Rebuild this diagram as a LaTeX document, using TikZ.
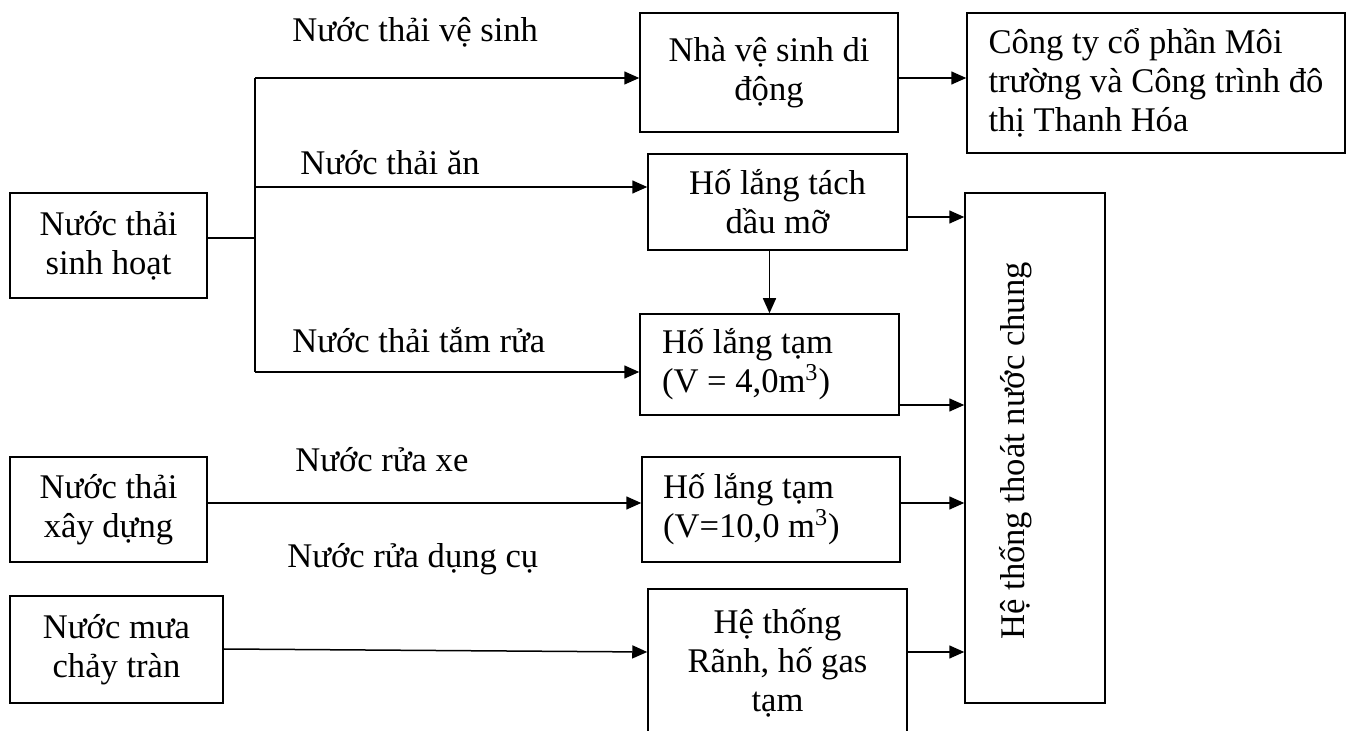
\documentclass[tikz,border=0pt]{standalone}
\usepackage{fontspec}
\setmainfont{Liberation Serif}
\usetikzlibrary{arrows.meta}
\begin{document}
\begin{tikzpicture}[x=0.5pt,y=-0.5pt,
  every node/.style={font=\fontsize{17.3}{19.5}\selectfont},
  box/.style={draw, line width=0.75pt, inner sep=0pt, align=center},
  lbox/.style={draw, line width=0.75pt, inner ysep=0pt, align=flush left},
  lbl/.style={anchor=base west, inner sep=0pt},
  arr/.style={line width=0.75pt, -{Triangle[length=7.5pt,width=6.5pt]}},
  ln/.style={line width=0.75pt}]
\useasboundingbox[fill=white] (0,0) rectangle (1351,731);
% boxes
\node[box, minimum width=98.5pt, minimum height=52.5pt] (sh) at (108.5,245.5) {Nước thải\\sinh hoạt};
\node[box, minimum width=98.5pt, minimum height=52.5pt] (xd) at (108.5,509.5) {Nước thải\\xây dựng};
\node[box, minimum width=106.5pt, minimum height=53.5pt] (mua) at (116.5,649.5) {Nước mưa\\chảy tràn};
\node[box, minimum width=129pt, minimum height=59.5pt] (nvs) at (769,72.5) {Nhà vệ sinh di\\động};
\node[box, minimum width=189pt, minimum height=70pt, align=left] (cty) at (1156,83) {Công ty cổ phần Môi\\trường và Công trình đô\\thị Thanh Hóa};
\node[box, minimum width=129.5pt, minimum height=48pt] (tach) at (777.5,202) {Hố lắng tách\\dầu mỡ};
\node[lbox, inner xsep=11pt, text width=107.5pt, minimum height=50.5pt] (tam4) at (769.5,364.5) {Hố lắng tạm\\(V = 4,0m\textsuperscript{3})};
\node[lbox, inner xsep=10.5pt, text width=108pt, minimum height=52.5pt] (tam10) at (771,509.5) {Hố lắng tạm\\(V=10,0 m\textsuperscript{3})};
\node[box, minimum width=129.5pt, minimum height=74pt] (ranh) at (777.5,663) {Hệ thống\\Rãnh, hố gas\\tạm};
\node[box, minimum width=70pt, minimum height=255pt] (chung) at (1035,448) {};
\node[rotate=90, inner sep=0pt] (chungtxt) at (1016,451) {Hệ thống thoát nước chung};
% labels
\node[lbl] (l1) at (292,42) {Nước thải vệ sinh};
\node[lbl] (l2) at (300,175) {Nước thải ăn};
\node[lbl] (l3) at (292,353) {Nước thải tắm rửa};
\node[lbl] (l4) at (295,472) {Nước rửa xe};
\node[lbl] (l5) at (287,568) {Nước rửa dụng cụ};
% coordinates
\coordinate (j) at (255,238);
\coordinate (jt) at (255,78);
\coordinate (ja) at (255,187);
\coordinate (jb) at (255,372);
\coordinate (y1) at (0,217);
\coordinate (y2) at (0,405);
\coordinate (y3) at (0,503);
\coordinate (y4) at (0,649);
\coordinate (y5) at (0,652);
% connectors
\draw[ln] (sh.east |- j) -- (j);
\draw[ln] (jt) -- (jb);
\draw[arr] (jt) -- (jt -| nvs.west);
\draw[arr] (ja) -- (ja -| tach.west);
\draw[arr] (jb) -- (jb -| tam4.west);
\draw[arr] (nvs.east |- jt) -- (cty.west |- jt);
\draw[arr] (tach.east |- y1) -- (chung.west |- y1);
\draw[arr] (tach.south -| tam4.north) -- (tam4.north);
\draw[arr] (tam4.east |- y2) -- (chung.west |- y2);
\draw[arr] (xd.east |- y3) -- (tam10.west |- y3);
\draw[arr] (tam10.east |- y3) -- (chung.west |- y3);
\draw[arr] (mua.east |- y4) -- (ranh.west |- y5);
\draw[arr] (ranh.east |- y5) -- (chung.west |- y5);
\end{tikzpicture}
\end{document}
